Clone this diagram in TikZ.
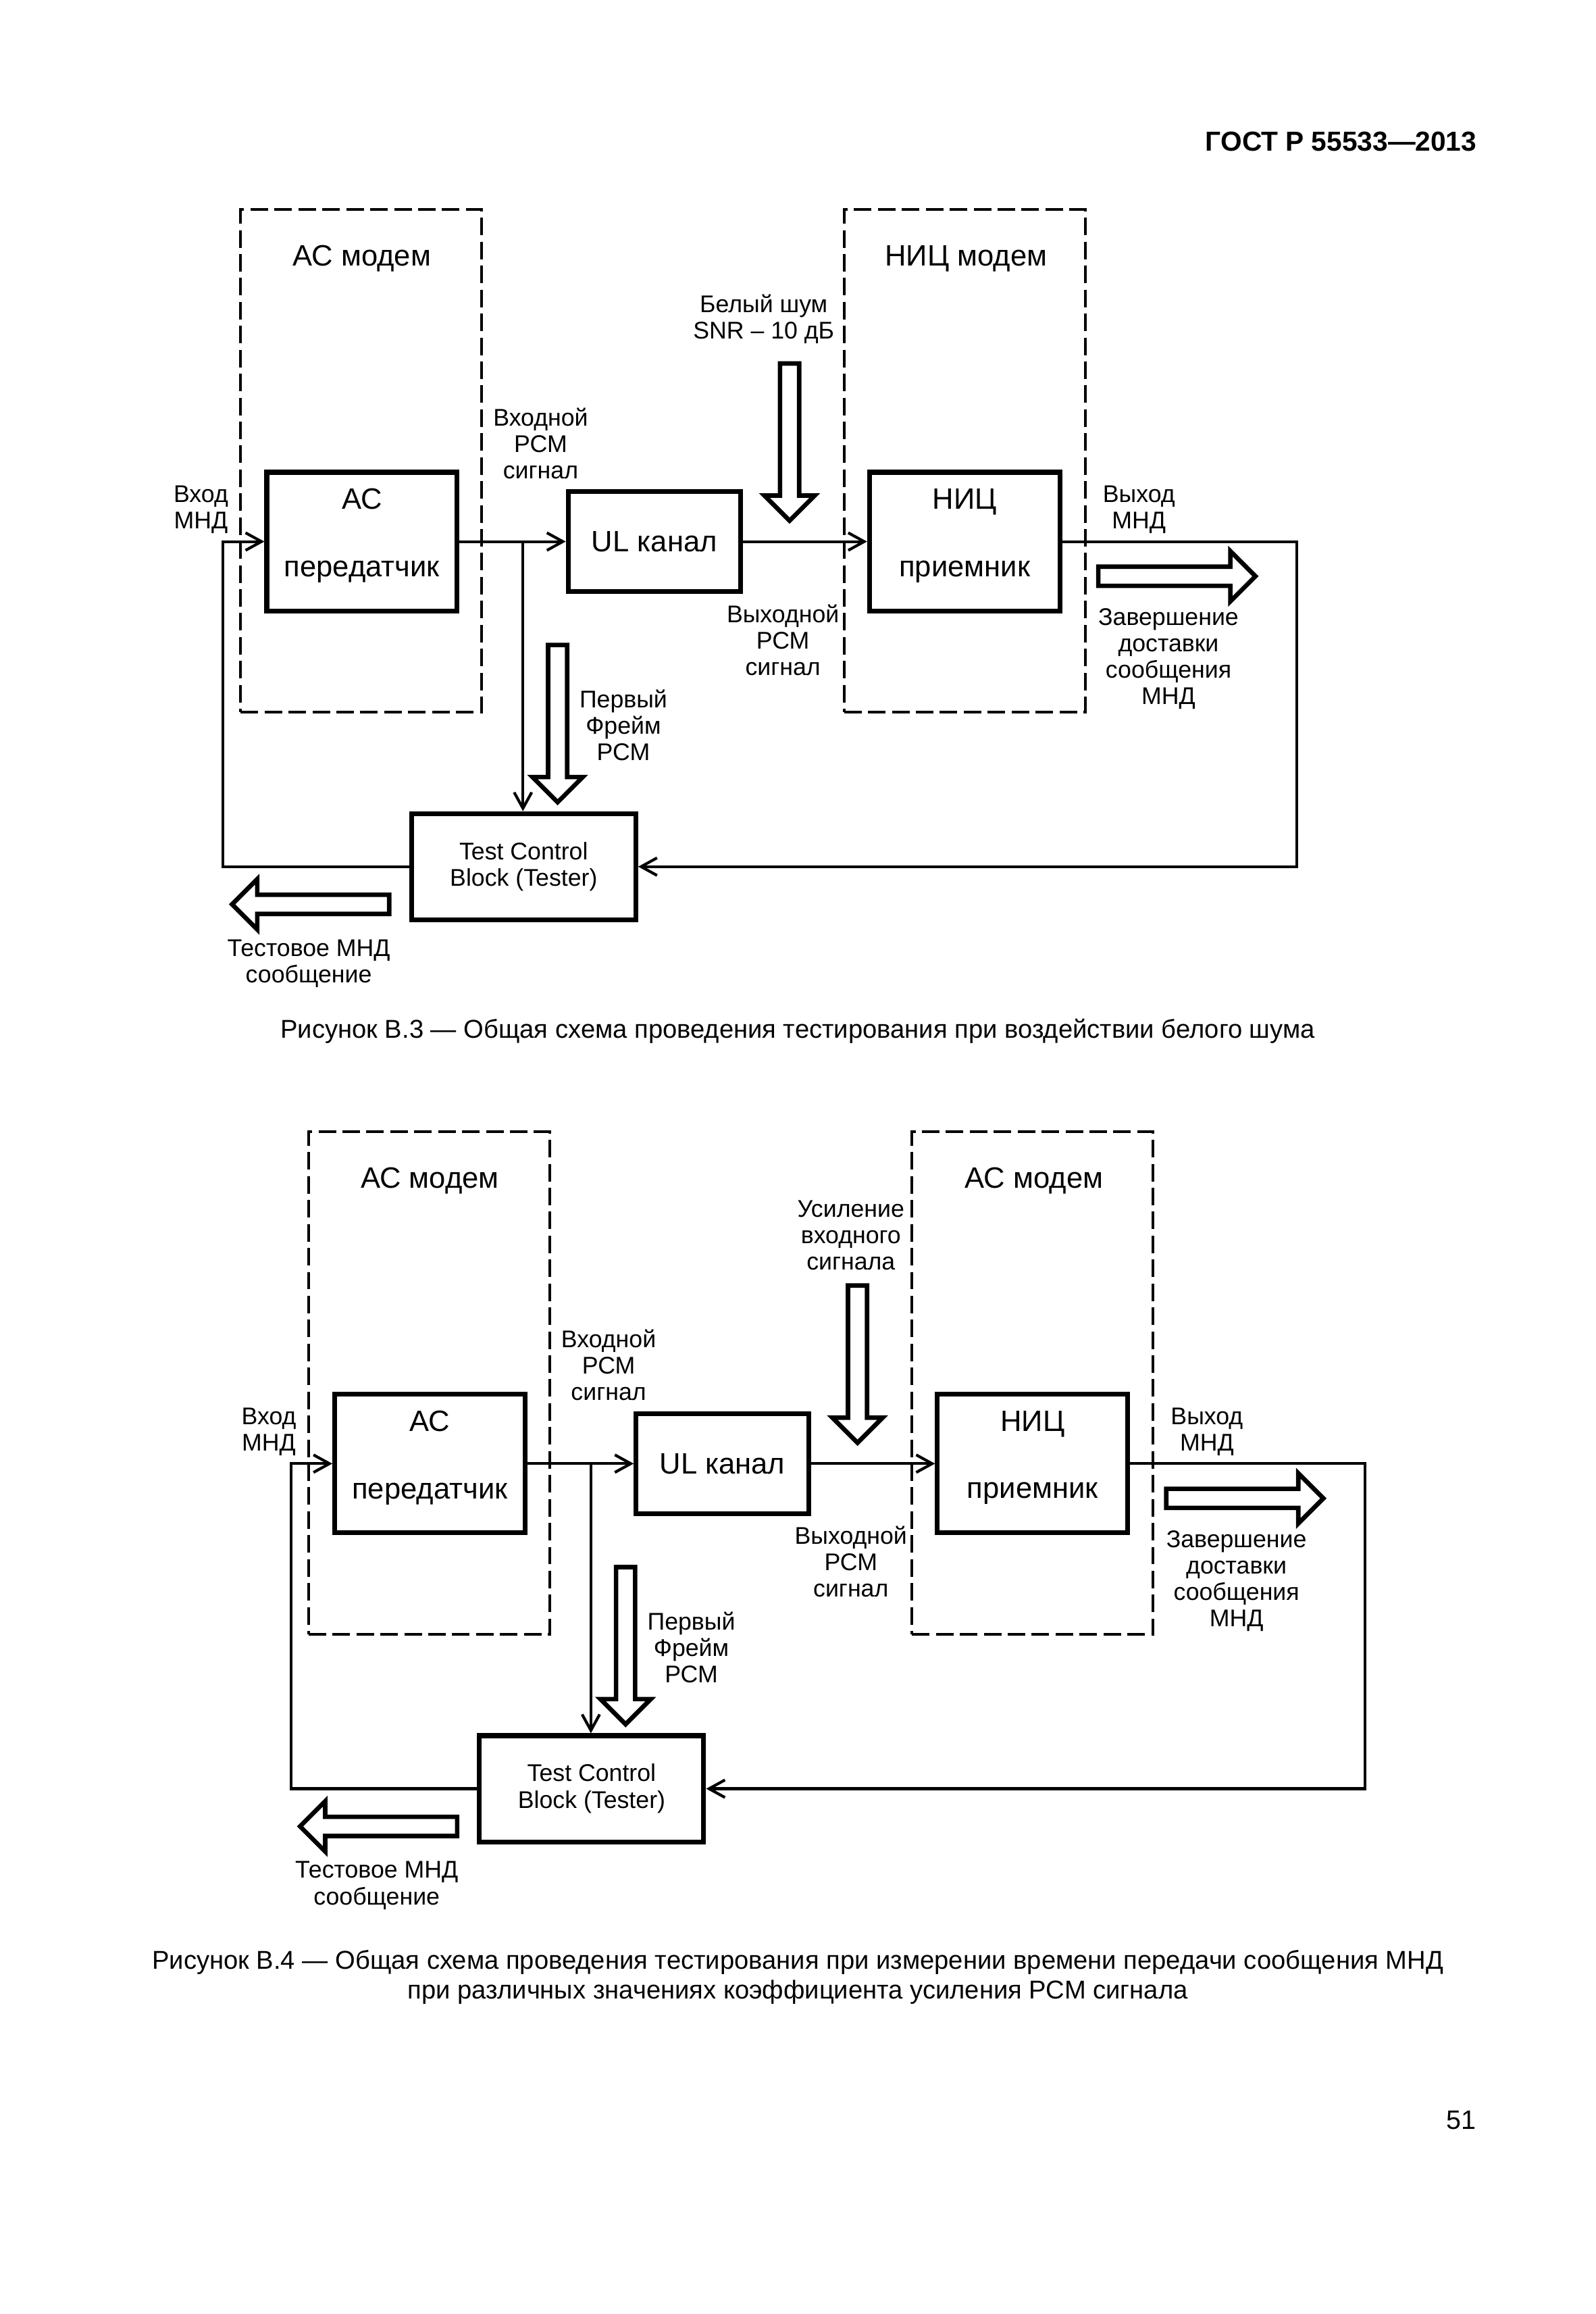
\documentclass[tikz,border=0pt]{standalone}
\usepackage{fontspec}
\setmainfont{Liberation Sans}
\usetikzlibrary{arrows.meta,positioning}

\newcommand\pxl{0.185185mm}

\tikzset{
  modem/.style={draw, line width=1pt, dash pattern=on 2.2mm off 0.8mm,
    minimum width=163.2*\pxl, minimum height=340.2*\pxl, inner sep=0pt},
  unit/.style={draw, line width=1.7pt, inner sep=0pt, align=center},
  title/.style={font=\fontsize{10.5}{12}\selectfont, inner sep=0pt},
  lbl/.style={font=\fontsize{8.6}{9.4}\selectfont, align=center, inner sep=0pt},
  sig/.style={line width=1pt, -{Straight Barb[length=2mm,width=2.2mm]}},
  fat/.style={line width=1.6pt, miter limit=10},
  pics/fatarrow/.style={code={
    \draw[fat] (0,-1.2mm) -- (16.55mm,-1.2mm) -- (16.55mm,-3.15mm) -- (19.7mm,0)
      -- (16.55mm,3.15mm) -- (16.55mm,1.2mm) -- (0,1.2mm) -- cycle;
  }}
}

\begin{document}
\begin{tikzpicture}[x=\pxl, y=-\pxl]
    \useasboundingbox (0,0) rectangle (1080,1566);

    \node[anchor=east, font=\fontsize{9.8}{12}\selectfont\bfseries, inner sep=0pt] (gost) at (1000,96) {ГОСТ Р 55533—2013};

    % the two test set-ups, the second one shifted down
    \foreach \dx/\dy/\gaintext/\gx/\gy/\rtitle in {0/0/{Белый шум\\SNR – 10 дБ}/517/216/{НИЦ модем},
        46/624/{Усиление\\входного\\сигнала}/530/212/{АС модем}}
    {
    \begin{scope}[shift={(\dx,\dy)}]
        \node[modem] (acmod) at (244.5,312) {};
        \node[modem] (nicmod) at (653,312) {};
        \node[title] (actitle) at (245,175) {АС модем};
        \node[title] (nictitle) at (654,175) {\rtitle};

        \node[unit, minimum width=128.8*\pxl, minimum height=93.8*\pxl, text depth=6.4pt, font=\fontsize{10.5}{24}\selectfont] (actx) at (245,366.5) {АС\\передатчик};
        \node[unit, minimum width=116.8*\pxl, minimum height=67.8*\pxl, font=\fontsize{10.5}{12}\selectfont] (ulch) at (443,366.5) {UL канал};
        \node[unit, minimum width=128.8*\pxl, minimum height=93.8*\pxl, text depth=6.4pt, font=\fontsize{10.5}{24}\selectfont] (nicrx) at (653,366.5) {НИЦ\\приемник};
        \node[unit, minimum width=151.8*\pxl, minimum height=71.8*\pxl, font=\fontsize{8.6}{9.6}\selectfont] (tcb) at (354.5,586.5) {Test Control\\Block (Tester)};

        \coordinate (inbend) at (151,366.5);
        \coordinate (outbend) at (878,366.5);
        \coordinate (tap) at (354,366.5);

        \draw[sig] (tcb.west) -| (inbend) -- (actx.west);
        \draw[sig] (actx.east) -- (ulch.west);
        \draw[sig] (tap) -- (tap |- tcb.north);
        \draw[sig] (ulch.east) -- (nicrx.west);
        \draw[sig] (nicrx.east) -- (outbend) |- (tcb.east);

        \pic[rotate=-90] (gainarrow) at (534.5,246) {fatarrow};
        \pic[rotate=-90] (framearrow) at (377.5,436.5) {fatarrow};
        \pic (donearrow) at (743.5,390) {fatarrow};
        \pic[rotate=180] (testarrow) at (263.5,612) {fatarrow};

        \node[lbl] (inlbl) at (136,345) {Вход\\МНД};
        \node[lbl] (pcmin) at (366,300) {Входной\\РСМ\\сигнал};
        \node[lbl] (gainlbl) at (\gx,\gy) {\gaintext};
        \node[lbl] (pcmout) at (530,433) {Выходной\\РСМ\\сигнал};
        \node[lbl] (outlbl) at (771,345) {Выход\\МНД};
        \node[lbl] (donelbl) at (791,446) {Завершение\\доставки\\сообщения\\МНД};
        \node[lbl] (framelbl) at (422,491) {Первый\\Фрейм\\РСМ};
        \node[lbl] (testlbl) at (209,652) {Тестовое МНД\\сообщение};
    \end{scope}
    }

    \node[font=\fontsize{9.2}{11}\selectfont, inner sep=0pt] (cap1) at (540,698) {Рисунок В.3 — Общая схема проведения тестирования при воздействии белого шума};
    \node[font=\fontsize{9.2}{10.5}\selectfont, align=center, inner sep=0pt] (cap2) at (540,1338) {Рисунок В.4 — Общая схема проведения тестирования при измерении времени передачи сообщения МНД\\при различных значениях коэффициента усиления РСМ сигнала};
    \node[font=\fontsize{9.5}{12}\selectfont, inner sep=0pt] (pagenum) at (989,1435) {51};
\end{tikzpicture}
\end{document}
